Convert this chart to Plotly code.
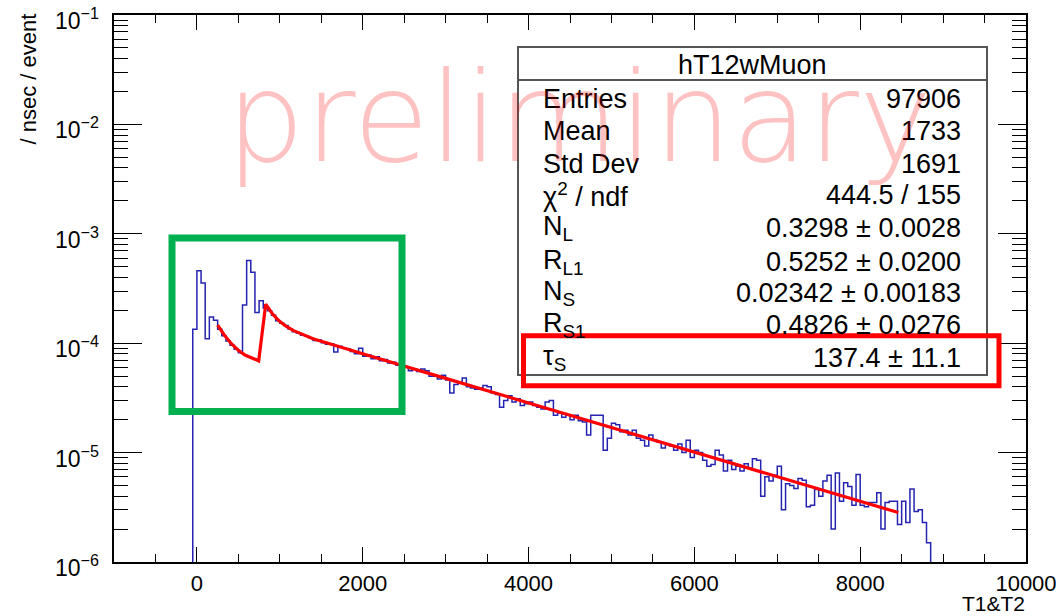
import numpy as np
import plotly.graph_objects as go

# ---------------- data ----------------
BIN_START = -50
BIN_WIDTH = 50
# per-bin content (/ nsec / event), bins of 50 ns starting at -50
hist_values = [
    1.34e-4, 4.6e-4, 3.55e-4, 1.1e-4, 1.74e-4, 1.62e-4, 1.34e-4, 1.17e-4, 1.05e-4, 9.6e-5,
    8.8e-5, 8.2e-5, 2.24e-4, 5.69e-4, 4.45e-4, 1.91e-4, 2.44e-4, 2.1e-4,
    # 850 - 1300
    1.98e-4, 1.80e-4, 1.60e-4, 1.52e-4, 1.45e-4, 1.35e-4, 1.27e-4, 1.24e-4, 1.18e-4, 1.16e-4,
    # 1350 - 1800
    1.12e-4, 1.06e-4, 1.07e-4, 1.01e-4, 9.8e-5, 9.9e-5, 8.3e-5, 9.4e-5, 9.0e-5, 8.9e-5,
    # 1850 - 2300
    8.4e-5, 8.0e-5, 9.0e-5, 7.6e-5, 7.8e-5, 7.2e-5, 7.5e-5, 6.9e-5, 7.1e-5, 6.6e-5,
    # 2350 - 2800
    6.7e-5, 6.3e-5, 6.4e-5, 6.1e-5, 5.6e-5, 5.8e-5, 5.5e-5, 5.8e-5, 5.6e-5, 5.0e-5,
    # 2850 - 3300
    5.0e-5, 4.7e-5, 5.1e-5, 4.6e-5, 3.5e-5, 4.2e-5, 4.3e-5, 4.8e-5, 4.0e-5, 3.9e-5,
    # 3350 - 3800
    3.8e-5, 3.9e-5, 4.1e-5, 4.0e-5, 3.5e-5, 3.4e-5, 2.6e-5, 3.0e-5, 3.3e-5, 2.9e-5,
    # 3850 - 4300
    3.1e-5, 2.7e-5, 2.8e-5, 2.9e-5, 2.7e-5, 2.6e-5, 2.5e-5, 2.9e-5, 3.0e-5, 2.2e-5,
    # 4350 - 4800
    2.3e-5, 2.1e-5, 2.2e-5, 2.0e-5, 2.2e-5, 1.95e-5, 1.9e-5, 1.45e-5, 2.2e-5, 2.2e-5,
    # 4850 - 5300
    2.2e-5, 1.05e-5, 1.35e-5, 1.85e-5, 1.8e-5, 1.55e-5, 1.6e-5, 1.45e-5, 1.6e-5, 1.35e-5,
    # 5350 - 5800
    1.3e-5, 1.15e-5, 1.45e-5, 1.3e-5, 1.25e-5, 1.1e-5, 1.2e-5, 1.15e-5, 1.05e-5, 1.2e-5,
    # 5850 - 6300
    1.0e-5, 1.3e-5, 9.0e-6, 1.05e-5, 1.0e-5, 8.5e-6, 7.5e-6, 7.8e-6, 1.05e-5, 9.5e-6,
    # 6350 - 6800
    6.8e-6, 8.5e-6, 7.0e-6, 7.5e-6, 6.8e-6, 7.9e-6, 7.2e-6, 8.8e-6, 8.5e-6, 4.0e-6,
    # 6850 - 7300
    6.0e-6, 5.5e-6, 6.2e-6, 7.5e-6, 3.0e-6, 5.2e-6, 5.0e-6, 4.7e-6, 5.8e-6, 5.6e-6,
    # 7350 - 7800
    3.2e-6, 3.3e-6, 4.6e-6, 4.0e-6, 5.5e-6, 6.2e-6, 2.0e-6, 6.5e-6, 3.6e-6, 5.3e-6,
    # 7850 - 8300
    4.9e-6, 3.3e-6, 6.3e-6, 3.3e-6, 3.2e-6, 3.5e-6, 3.5e-6, 4.3e-6, 2.0e-6, 3.5e-6,
    # 8350 - 8800
    3.6e-6, 3.6e-6, 2.2e-6, 3.6e-6, 2.3e-6, 4.65e-6, 2.9e-6, 3.0e-6, 2.3e-6, 1.5e-6,
]

# fitted function, sampled
fit_x = [250, 330, 415, 500, 580, 660, 745, 830, 910, 990, 1075, 1160, 1240, 1400,
         1570, 1735, 2090, 3000, 4000, 5000, 6000, 7000, 8000, 8460]
fit_y = [1.46e-4, 1.19e-4, 9.9e-5, 8.6e-5, 7.8e-5, 7.3e-5, 6.9e-5, 2.27e-4, 1.86e-4,
         1.60e-4, 1.43e-4, 1.31e-4, 1.23e-4, 1.10e-4, 1.004e-4, 9.18e-5, 7.64e-5,
         4.77e-5, 2.84e-5, 1.69e-5, 1.01e-5, 6.02e-6, 3.59e-6, 2.83e-6]

stat_title = "hT12wMuon"
stat_labels = ["Entries", "Mean", "Std Dev", "χ<sup>2</sup> / ndf", "N<sub>L</sub>",
               "R<sub>L1</sub>", "N<sub>S</sub>", "R<sub>S1</sub>", "τ<sub>S</sub>"]
stat_values = ["97906", "1733", "1691", "444.5 / 155", "0.3298 ± 0.0028",
               "0.5252 ± 0.0200", "0.02342 ± 0.00183", "0.4826 ± 0.0276", "137.4 ± 11.1"]

x_tick_vals = [0, 2000, 4000, 6000, 8000, 10000]
x_tick_text = ["0", "2000", "4000", "6000", "8000", "10000"]
y_tick_exps = [-6, -5, -4, -3, -2, -1]
y_tick_text = ["10<sup>−6</sup>", "10<sup>−5</sup>", "10<sup>−4</sup>",
               "10<sup>−3</sup>", "10<sup>−2</sup>", "10<sup>−1</sup>"]
x_range = [-1000, 10000]
y_range_exp = [-6, -1]

# ---------------- geometry ----------------
W, H = 1061, 616
PL, PR, PT, PB = 114, 1026, 15, 562
FONT = "Liberation Sans, Arial, sans-serif"


def fx(x):
    return (x - PL) / (PR - PL)


def fy(y):
    return (PB - y) / (PB - PT)


ymin = 10 ** y_range_exp[0]
vals = np.array(hist_values)
edges = BIN_START + BIN_WIDTH * np.arange(len(vals) + 1)
hx = np.concatenate([[edges[0]], edges[:-1], [edges[-1]]])
hy = np.concatenate([[ymin], vals, [ymin]])

fig = go.Figure()
fig.add_trace(go.Scatter(x=hx, y=hy, mode="lines", line=dict(color="#2424b0", width=1.5, shape="hv"),
                         hoverinfo="skip", showlegend=False))
fig.add_trace(go.Scatter(x=fit_x, y=fit_y, mode="lines", line=dict(color="#ff0000", width=3.2),
                         hoverinfo="skip", showlegend=False))

minor_y = [m * 10.0 ** e for e in range(y_range_exp[0], y_range_exp[1]) for m in range(2, 10)]
minor_x = [v for v in range(-500, 10001, 500) if v % 2000 != 0]
major_y = [10.0 ** e for e in y_tick_exps]

fig.update_layout(
    width=W, height=H,
    margin=dict(l=PL, r=W - PR, t=PT, b=H - PB, pad=0),
    paper_bgcolor="white", plot_bgcolor="white",
    font=dict(family=FONT, color="black"),
    xaxis=dict(range=x_range, automargin=False, showgrid=False, zeroline=False, showline=True,
               linecolor="black", linewidth=1.5, mirror="ticks", ticks="inside", ticklen=15,
               tickwidth=1.3, tickcolor="black", tickmode="array", tickvals=x_tick_vals,
               ticktext=x_tick_text, tickfont=dict(size=22, family=FONT), ticklabelstandoff=1,
               ticklabeloverflow="allow",
               minor=dict(ticks="inside", ticklen=8, tickwidth=1.2, tickcolor="black",
                          tickmode="array", tickvals=minor_x, showgrid=False)),
    yaxis=dict(type="log", range=[y_range_exp[0], y_range_exp[1] + 1e-9], automargin=False,
               showgrid=False, zeroline=False,
               showline=True, linecolor="black", linewidth=1.5, mirror="ticks", ticks="inside",
               ticklen=28, tickwidth=1.3, tickcolor="black", tickmode="array",
               tickvals=major_y, showticklabels=False,
               minor=dict(ticks="inside", ticklen=14, tickwidth=1.2, tickcolor="black",
                          tickmode="array", tickvals=minor_y, showgrid=False)),
)

shapes = []
# stats box
BX0, BX1, BY0, BY1 = 518, 987, 47, 375
shapes.append(dict(type="rect", xref="paper", yref="paper", x0=fx(BX0), x1=fx(BX1), y0=fy(BY1),
                   y1=fy(BY0), line=dict(color="#555555", width=2), fillcolor="white", layer="above"))
shapes.append(dict(type="line", xref="paper", yref="paper", x0=fx(BX0), x1=fx(BX1), y0=fy(80),
                   y1=fy(80), line=dict(color="#555555", width=2), layer="above"))
# green highlight box
shapes.append(dict(type="rect", xref="paper", yref="paper", x0=fx(172), x1=fx(402), y0=fy(411.5),
                   y1=fy(238), line=dict(color="rgb(0,176,80)", width=7), layer="above"))
# red highlight box
shapes.append(dict(type="rect", xref="paper", yref="paper", x0=fx(523.5), x1=fx(999), y0=fy(385.8),
                   y1=fy(335.8), line=dict(color="#ff0000", width=5), layer="above"))
fig.update_layout(shapes=shapes)

ann = []
# y tick labels (ROOT places them a few px below the tick); log axis -> position in log10 units
for e, t in zip(y_tick_exps, y_tick_text):
    ann.append(dict(text=t, x=fx(101), xref="paper", y=e, yref="y", yshift=-4,
                    showarrow=False, xanchor="right", yanchor="middle",
                    font=dict(size=23, family=FONT, color="black")))
ann.append(dict(text=stat_title, x=fx(752), y=fy(65), xref="paper", yref="paper", showarrow=False,
                xanchor="center", yanchor="middle", font=dict(size=27, family=FONT, color="black")))
row_y = [99.3, 130.7, 164, 195, 228.3, 261.7, 293.3, 325, 358.3]
for lab, val, ry in zip(stat_labels, stat_values, row_y):
    ann.append(dict(text=lab, x=fx(541), y=fy(ry), xref="paper", yref="paper", showarrow=False,
                    xanchor="left", yanchor="middle", font=dict(size=27, family=FONT, color="black")))
    ann.append(dict(text=val, x=fx(963), y=fy(ry), xref="paper", yref="paper", showarrow=False,
                    xanchor="right", yanchor="middle", font=dict(size=27, family=FONT, color="black")))
# axis titles
ann.append(dict(text="/ nsec / event", x=fx(28), y=fy(12), xref="paper", yref="paper",
                showarrow=False, textangle=-90, xanchor="center", yanchor="top",
                font=dict(size=22, family=FONT, color="black")))
ann.append(dict(text="T1&T2", x=fx(1027), y=fy(603), xref="paper", yref="paper", showarrow=False,
                xanchor="right", yanchor="middle", font=dict(size=21, family=FONT, color="black")))
# watermark
ann.append(dict(text="preliminary", x=fx(579), y=fy(118), xref="paper", yref="paper",
                showarrow=False, xanchor="center", yanchor="middle",
                font=dict(size=124, family="DejaVu Sans", color="rgba(255,0,0,0.24)", weight=200)))
fig.update_layout(annotations=ann)

fig.write_html("out.html")
